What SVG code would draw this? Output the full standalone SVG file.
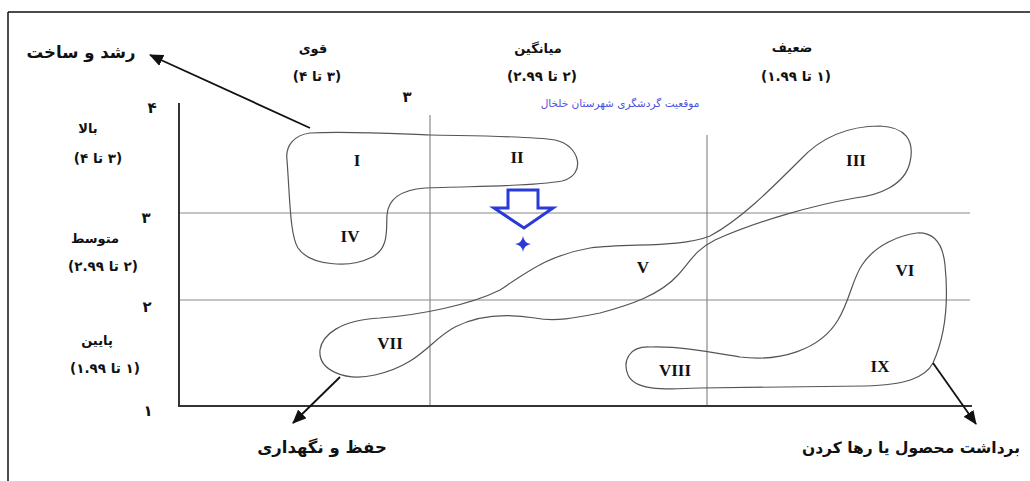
<svg xmlns="http://www.w3.org/2000/svg" width="1030" height="481" viewBox="0 0 1030 481">
<style>
.fa{font-family:"DejaVu Sans",sans-serif;font-weight:bold;fill:#111;direction:rtl;text-anchor:middle}
.lbl{font-size:13px}
.big{font-size:16.5px}
.num{font-size:13.5px}
.ax{font-size:15px}
.rn{font-family:"Liberation Serif",serif;font-weight:bold;font-size:17px;fill:#111;text-anchor:middle}
.grid{stroke:#8a8a8a;stroke-width:1.2;fill:none}
.axis{stroke:#333;stroke-width:2;fill:none}
.blob{stroke:#555;stroke-width:1.2;fill:none}
.conn{stroke:#111;stroke-width:1.8;fill:none}
</style>
<defs>
<marker id="ah" markerWidth="14" markerHeight="12" refX="13" refY="6" orient="auto" markerUnits="userSpaceOnUse">
<path d="M0,0 L14,6 L0,12 Z" fill="#111"/>
</marker>
</defs>
<rect width="1030" height="481" fill="#fff"/>
<g id="frame">
<line x1="8" y1="12" x2="1030" y2="12" stroke="#111" stroke-width="1.5"/>
<line x1="8" y1="12" x2="8" y2="481" stroke="#111" stroke-width="1.5"/>
</g>
<g id="grid">
<line class="grid" x1="430" y1="115" x2="430" y2="406"/>
<line class="grid" x1="707" y1="135" x2="707" y2="406"/>
<line class="grid" x1="179" y1="213" x2="970" y2="213"/>
<line class="grid" x1="179" y1="300" x2="970" y2="300"/>
<line class="axis" x1="179" y1="103" x2="179" y2="406"/>
<line class="axis" x1="178" y1="406" x2="972" y2="406"/>
</g>
<g id="axis-labels">
<text class="fa ax" x="152" y="113">۴</text>
<text class="fa ax" x="146" y="223">۳</text>
<text class="fa ax" x="147" y="312">۲</text>
<text class="fa ax" x="148" y="416">۱</text>
<text class="fa ax" x="407" y="102">۳</text>
<text class="fa lbl" x="88" y="133">بالا</text>
<text class="fa num" x="98" y="163">(۳ تا ۴)</text>
<text class="fa lbl" x="95" y="243">متوسط</text>
<text class="fa num" x="103" y="271">(۲ تا ۲.۹۹)</text>
<text class="fa lbl" x="97" y="345">پایین</text>
<text class="fa num" x="105" y="373">(۱ تا ۱.۹۹)</text>
<text class="fa lbl" x="313" y="53">قوی</text>
<text class="fa num" x="317" y="81">(۳ تا ۴)</text>
<text class="fa lbl" x="538" y="53">میانگین</text>
<text class="fa num" x="542" y="81">(۲ تا ۲.۹۹)</text>
<text class="fa lbl" x="792" y="52">ضعیف</text>
<text class="fa num" x="796" y="81">(۱ تا ۱.۹۹)</text>
<text class="fa big" x="81" y="58">رشد و ساخت</text>
<text class="fa big" x="322" y="453">حفظ و نگهداری</text>
<text class="fa" x="911" y="453" style="font-size:15.5px">برداشت محصول یا رها کردن</text>
</g>
<g id="location">
<text x="620" y="107" style="font-family:'DejaVu Sans',sans-serif;font-size:10.5px;fill:#5050e0;direction:rtl;text-anchor:middle">موقعیت گردشگری شهرستان خلخال</text>
<path d="M508,190 L538,190 L538,208 L553,208 L524,228 L494,208 L508,208 Z" fill="none" stroke="#2a3ad8" stroke-width="3" stroke-linejoin="miter"/>
<path d="M523,236 Q524,243 531,244 Q524,245 523,252 Q522,245 515,244 Q522,243 523,236 Z" fill="#2a3ad8"/>
</g>
<g id="group-I-II-IV">
<path class="blob" d="M310,133 C350,131 400,134 430,135 C480,136 530,136 555,140 C580,145 587,175 562,181 C530,187 470,186 425,188 C400,190 388,200 387,215 C386,228 390,250 370,258 C350,268 310,266 298,248 C290,235 290,200 287,160 C285,145 295,135 310,133 Z"/>
<text class="rn" x="357" y="166">I</text>
<text class="rn" x="517" y="163">II</text>
<text class="rn" x="350" y="242">IV</text>
</g>
<g id="group-III-V-VII">
<path class="blob" d="M880,126 C905,127 915,140 910,162 C905,185 880,195 855,198 C815,205 760,220 715,240 C695,250 690,262 678,275 C660,295 630,305 600,313 C575,318 555,322 535,318 C510,314 480,314 455,327 C430,340 420,365 375,375 C345,382 318,370 320,350 C322,335 340,320 380,318 C420,315 470,305 500,290 C530,270 550,255 590,248 C630,243 680,248 710,236 C740,220 770,190 800,160 C825,133 855,126 880,126 Z"/>
<text class="rn" x="856" y="166">III</text>
<text class="rn" x="643" y="273">V</text>
<text class="rn" x="390" y="349">VII</text>
</g>
<g id="group-VI-VIII-IX">
<path class="blob" d="M917,233 C935,232 943,245 945,265 C948,295 948,330 933,363 C925,378 905,385 865,386 L700,388 C660,390 635,390 628,375 C622,360 630,346 650,347 C680,346 710,352 740,357 C780,362 820,350 838,320 C850,300 852,280 862,265 C875,245 900,235 917,233 Z"/>
<text class="rn" x="905" y="276">VI</text>
<text class="rn" x="675" y="376">VIII</text>
<text class="rn" x="880" y="372">IX</text>
</g>
<g id="connectors">
<line class="conn" x1="310" y1="128" x2="150" y2="55" marker-end="url(#ah)"/>
<line class="conn" x1="340" y1="377" x2="293" y2="423" marker-end="url(#ah)"/>
<line class="conn" x1="933" y1="363" x2="976" y2="424" marker-end="url(#ah)"/>
</g>
</svg>
